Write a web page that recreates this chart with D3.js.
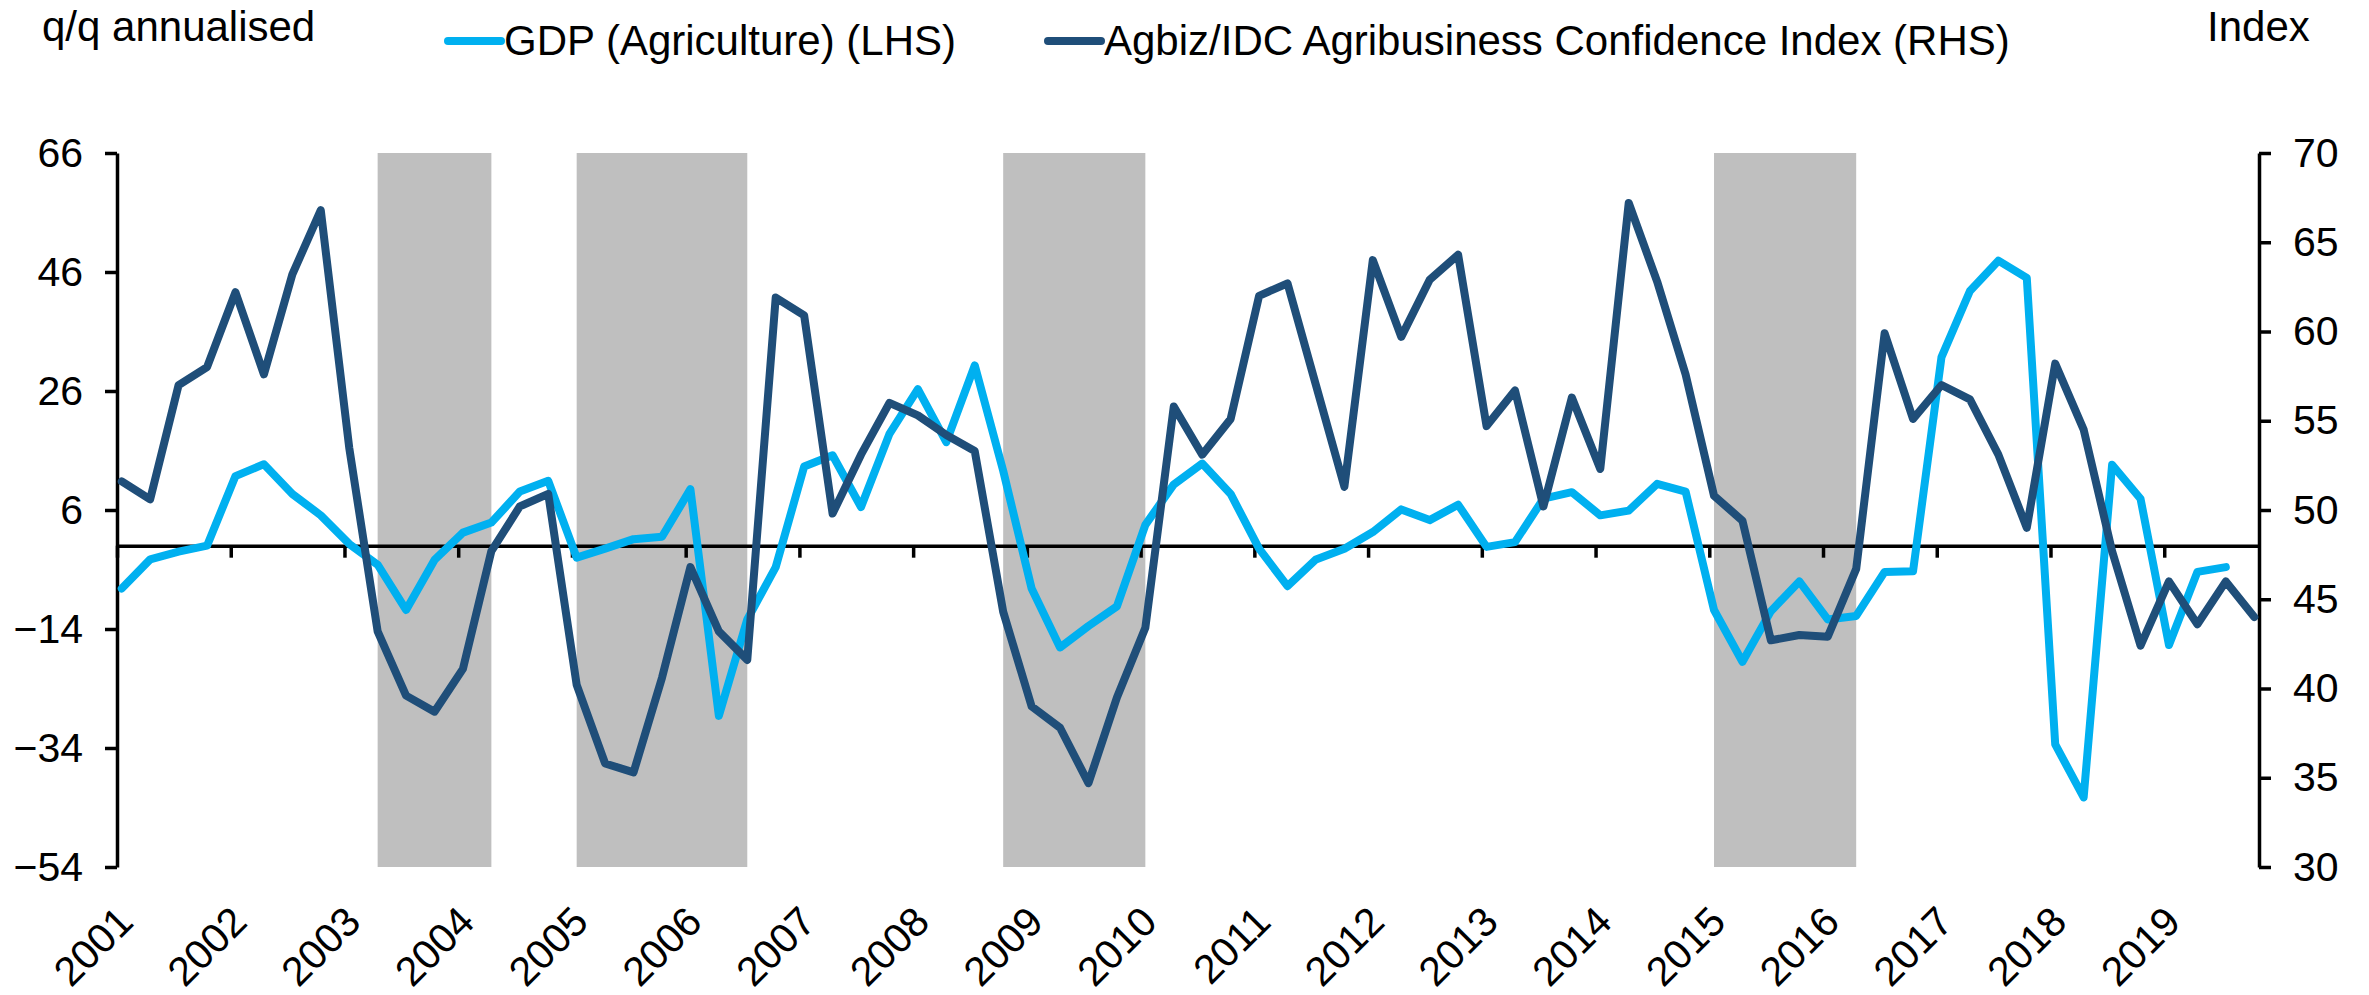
<!DOCTYPE html>
<html>
<head>
<meta charset="utf-8">
<script src="https://cdn.jsdelivr.net/npm/d3@7"></script>
<style>
  body { margin: 0; background: #fff; }
  svg { display: block; font-family: "Liberation Sans", Arial, sans-serif; }
</style>
</head>
<body>
<script>
// quarterly series, first point Jan 2001
const years = ["2001", "2002", "2003", "2004", "2005", "2006", "2007", "2008", "2009", "2010",
    "2011", "2012", "2013", "2014", "2015", "2016", "2017", "2018", "2019"];

const gdpAgri = [-7.2, -2.3, -1.0, 0.0, 11.7, 13.7, 8.7, 5.1, 0.3, -3.2,
    -10.8, -2.4, 2.2, 3.9, 9.1, 10.9, -2.0, -0.5, 1.1, 1.5,
    9.5, -28.6, -12.4, -3.6, 13.3, 15.2, 6.5, 18.8, 26.3, 17.4,
    30.3, 12.6, -7.2, -17.1, -13.5, -10.2, 3.5, 10.3, 13.8, 8.7,
    -0.5, -6.8, -2.3, -0.5, 2.3, 6.1, 4.3, 6.9, -0.2, 0.6,
    7.9, 9.0, 5.1, 5.9, 10.4, 9.1, -10.8, -19.5, -11.0, -6.0,
    -12.4, -11.8, -4.4, -4.3, 31.7, 42.8, 47.9, 45.0, -33.4, -42.3,
    13.6, 7.9, -16.7, -4.4, -3.6];

const agbizIndex = [51.6, 50.6, 57.0, 58.0, 62.2, 57.6, 63.2, 66.8, 53.5, 43.2,
    39.6, 38.7, 41.1, 47.7, 50.2, 50.9, 40.2, 35.8, 35.3, 40.6,
    46.8, 43.2, 41.6, 61.9, 60.9, 49.8, 53.1, 56.0, 55.3, 54.2,
    53.3, 44.3, 39.0, 37.8, 34.7, 39.5, 43.4, 55.8, 53.1, 55.1,
    62.0, 62.7, 57.0, 51.3, 64.0, 59.7, 62.9, 64.3, 54.7, 56.7,
    50.2, 56.3, 52.3, 67.2, 62.8, 57.6, 50.8, 49.4, 42.7, 43.0,
    42.9, 46.7, 59.9, 55.1, 57.0, 56.2, 53.1, 49.0, 58.2, 54.5,
    47.7, 42.4, 46.0, 43.6, 46.0, 44.0];

const recessions = [["2003Q2", "2004Q2"], ["2005Q1", "2006Q3"], ["2008Q4", "2010Q1"], ["2015Q1", "2016Q2"]];

const leftTicks = [-54, -34, -14, 6, 26, 46, 66];
const rightTicks = [30, 35, 40, 45, 50, 55, 60, 65, 70];

const width = 2369, height = 995;
const plot = {left: 117, right: 2259, top: 153, bottom: 867};
const lightBlue = "#00b0f0", darkBlue = "#1f4e79";

// month index since Jan 2001
const monthOf = (s) => (+s.slice(0, 4) - 2001) * 12 + (+s.slice(5) - 1) * 3;

const svg = d3.select("body").append("svg")
    .attr("width", width)
    .attr("height", height);

const x = d3.scaleLinear().domain([0, 226]).range([plot.left, plot.right]);
const yL = d3.scaleLinear().domain([-54, 66]).range([plot.bottom, plot.top]);
const yR = d3.scaleLinear().domain([30, 70]).range([plot.bottom, plot.top]);

// shaded periods
svg.selectAll("rect.shade")
    .data(recessions)
    .enter()
    .append("rect")
    .attr("class", "shade")
    .attr("x", (d) => x(monthOf(d[0]) + 0.5))
    .attr("width", (d) => x(monthOf(d[1]) + 0.5) - x(monthOf(d[0]) + 0.5))
    .attr("y", plot.top)
    .attr("height", plot.bottom - plot.top)
    .style("fill", "#bfbfbf");

// axes
const styleAxis = (g) => {
    g.attr("font-size", 41).attr("font-family", null);
    g.select(".domain").attr("stroke", "#000").attr("stroke-width", 3.5);
    g.selectAll(".tick line").attr("stroke", "#000").attr("stroke-width", 3.5);
    g.selectAll(".tick text").attr("fill", "#000");
};

svg.append("g")
    .attr("transform", "translate(" + plot.left + ",0)")
    .call(d3.axisLeft(yL).tickValues(leftTicks).tickSize(12).tickSizeOuter(0).tickPadding(22))
    .call(styleAxis);

svg.append("g")
    .attr("transform", "translate(" + plot.right + ",0)")
    .call(d3.axisRight(yR).tickValues(rightTicks).tickSize(12).tickSizeOuter(0).tickPadding(22))
    .call(styleAxis);

const xAxis = svg.append("g")
    .attr("transform", "translate(0," + yL(0) + ")")
    .call(d3.axisBottom(x)
        .tickValues(years.map((d, i) => i * 12))
        .tickFormat((d, i) => years[i])
        .tickSize(12)
        .tickSizeOuter(0))
    .call(styleAxis);

xAxis.selectAll(".tick text")
    .attr("y", 0)
    .attr("dy", 0)
    .attr("text-anchor", "end")
    .attr("transform", "translate(18," + (924 - yL(0)) + ") rotate(-45)");

// lines
const line = (yScale) => d3.line()
    .x((d, i) => x(i * 3 + 0.5))
    .y((d) => yScale(d));

svg.append("path")
    .datum(gdpAgri)
    .attr("d", line(yL))
    .attr("fill", "none")
    .attr("stroke", lightBlue)
    .attr("stroke-width", 8)
    .attr("stroke-linejoin", "round")
    .attr("stroke-linecap", "round");

svg.append("path")
    .datum(agbizIndex)
    .attr("d", line(yR))
    .attr("fill", "none")
    .attr("stroke", darkBlue)
    .attr("stroke-width", 8)
    .attr("stroke-linejoin", "round")
    .attr("stroke-linecap", "round");

// titles and legend
svg.append("text").attr("x", 42).attr("y", 41).attr("font-size", 42).text("q/q annualised");
svg.append("text").attr("x", 2207).attr("y", 41).attr("font-size", 42).text("Index");

const legend = [
    {label: "GDP (Agriculture) (LHS)", color: lightBlue, x: 448},
    {label: "Agbiz/IDC Agribusiness Confidence Index (RHS)", color: darkBlue, x: 1048}
];

const items = svg.selectAll("g.legend")
    .data(legend)
    .enter()
    .append("g")
    .attr("class", "legend")
    .attr("transform", (d) => "translate(" + d.x + ",41)");

items.append("line")
    .attr("x1", 0).attr("x2", 53)
    .attr("stroke", (d) => d.color)
    .attr("stroke-width", 8)
    .attr("stroke-linecap", "round");

items.append("text")
    .attr("x", 56)
    .attr("y", 14)
    .attr("font-size", 42)
    .text((d) => d.label);
</script>
</body>
</html>
